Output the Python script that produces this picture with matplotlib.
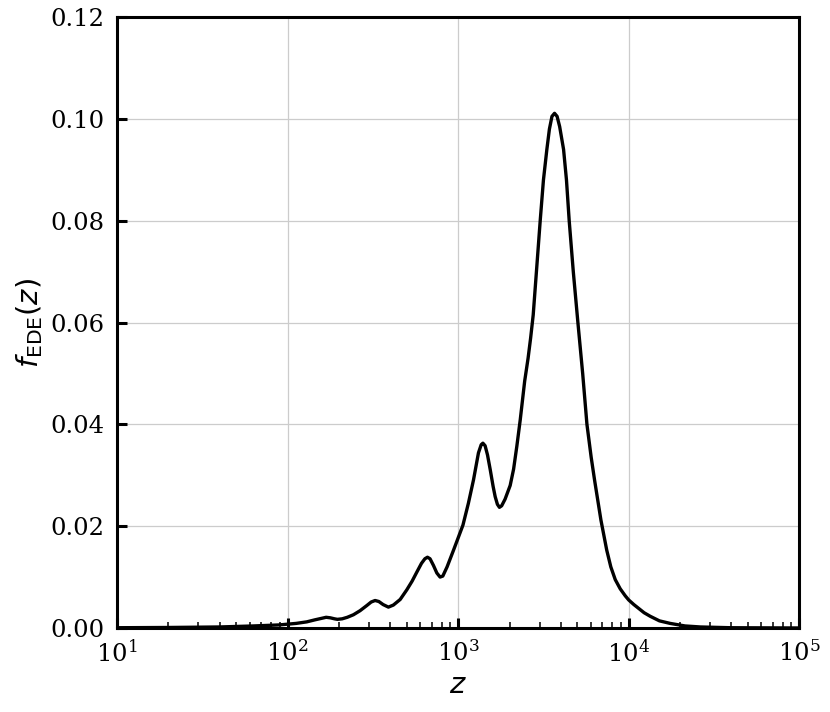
import numpy as np
import matplotlib.pyplot as plt

# f_EDE(z), x given as log10(z)
log_z = [1.0, 1.3, 1.6, 1.8, 1.95, 2.05, 2.112, 2.16, 2.2, 2.226, 2.25, 2.275,
         2.292, 2.32, 2.35, 2.386, 2.425, 2.464, 2.49, 2.513, 2.535, 2.56,
         2.591, 2.62, 2.66, 2.699, 2.73, 2.758, 2.785, 2.805, 2.82, 2.835,
         2.855, 2.875, 2.894, 2.91, 2.935, 2.973, 3.0, 3.028, 3.06, 3.09,
         3.119, 3.135, 3.145, 3.158, 3.172, 3.188, 3.205, 3.217, 3.23, 3.242,
         3.255, 3.275, 3.305, 3.325, 3.344, 3.364, 3.39, 3.41, 3.425, 3.44,
         3.46, 3.481, 3.5, 3.52, 3.535, 3.55, 3.565, 3.58, 3.595, 3.618, 3.635,
         3.651, 3.675, 3.702, 3.73, 3.755, 3.78, 3.8, 3.837, 3.871, 3.895,
         3.921, 3.95, 3.98, 4.0, 4.03, 4.06, 4.09, 4.126, 4.18, 4.243, 4.33,
         4.42, 4.6, 5.0]
f_ede = [0.00005, 0.0001, 0.0002, 0.0004, 0.0006, 0.0009, 0.0012, 0.0016, 0.0019,
         0.0021, 0.0020, 0.0018, 0.0017, 0.0018, 0.0021, 0.0026, 0.0034, 0.0044,
         0.0051, 0.0054, 0.0052, 0.0046, 0.0041, 0.0045, 0.0056, 0.0075, 0.0092,
         0.0110, 0.0127, 0.0136, 0.0139, 0.0136, 0.0123, 0.0108, 0.0100, 0.0102,
         0.0120, 0.0153, 0.0177, 0.0202, 0.0245, 0.0291, 0.0344, 0.0360, 0.0363,
         0.0358, 0.0340, 0.0311, 0.0278, 0.0258, 0.0243, 0.0237, 0.0240, 0.0253,
         0.0280, 0.0312, 0.0357, 0.0409, 0.0485, 0.0530, 0.0570, 0.0615, 0.0705,
         0.0800, 0.0880, 0.0940, 0.0980, 0.1005, 0.1011, 0.1005, 0.0985, 0.0940,
         0.0880, 0.0800, 0.0700, 0.0600, 0.0500, 0.0400, 0.0335, 0.0290, 0.0212,
         0.0153, 0.0120, 0.0095, 0.0077, 0.0063, 0.0055, 0.0046, 0.0038, 0.0030,
         0.0023, 0.0014, 0.0009, 0.0004, 0.0002, 0.00005, 0.0]

z = 10 ** np.array(log_z)

fig, ax = plt.subplots(figsize=(8.3, 7.12), dpi=100)
fig.subplots_adjust(left=0.141, right=0.963, top=0.976, bottom=0.118)

ax.plot(z, f_ede, color='black', lw=2.4, solid_joinstyle='round')
ax.set_xscale('log')
ax.set_xlim(10, 1e5)
ax.set_ylim(0, 0.12)
ax.set_yticks([0, 0.02, 0.04, 0.06, 0.08, 0.10, 0.12])
ax.set_yticklabels(['0.00', '0.02', '0.04', '0.06', '0.08', '0.10', '0.12'])

ax.grid(True, which='major', color='#cccccc', lw=0.9)
ax.set_axisbelow(True)
for s in ax.spines.values():
    s.set_linewidth(2.2)

ax.tick_params(which='major', direction='in', length=7, width=2.2, labelsize=17.5, pad=9)
ax.tick_params(which='minor', direction='in', length=4, width=1.1)
for lab in ax.get_xticklabels() + ax.get_yticklabels():
    lab.set_fontfamily('DejaVu Serif')
    lab.set_math_fontfamily('dejavuserif')

ax.set_xlabel(r'$z$', fontsize=21, labelpad=3, math_fontfamily='dejavusans')
ax.set_ylabel(r'$f_{\mathrm{EDE}}(z)$', fontsize=21, labelpad=4, math_fontfamily='dejavusans')

fig.savefig('out.png', dpi=100)
